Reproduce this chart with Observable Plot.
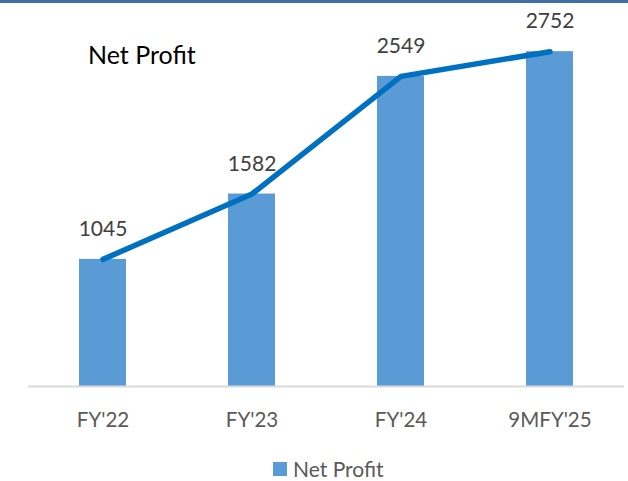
<!DOCTYPE html>
<html>
<head>
<meta charset="utf-8">
<script src="https://cdn.jsdelivr.net/npm/d3@7"></script>
<script src="https://cdn.jsdelivr.net/npm/@observablehq/plot@0.6"></script>
<style>
  html, body { margin: 0; padding: 0; background: #fff; }
  #wrap { position: relative; width: 628px; height: 481px; font-family: Lato, "Open Sans", sans-serif; }
  #topbar { position: absolute; left: 0; top: 0; width: 628px; height: 3px; background: #3f6fa3; }
  #title { position: absolute; left: 88px; top: 42px; font-size: 25px; color: #000; line-height: 1; }
  #legend { position: absolute; left: 273px; top: 458px; font-size: 21px; color: #595959; display: flex; align-items: center; line-height: 1; }
  #legend .sw { width: 14px; height: 14px; background: #5b9bd5; margin-right: 6px; }
  #chart { position: absolute; left: 0; top: 0; }
</style>
</head>
<body>
<div id="wrap">
  <div id="chart"></div>
  <div id="topbar"></div>
  <div id="title">Net Profit</div>
  <div id="legend"><span class="sw"></span><span id="legtext"></span></div>
</div>
<script>
const categories = ["FY'22", "FY'23", "FY'24", "9MFY'25"];
const netProfit = [1045, 1582, 2549, 2752];
const seriesName = "Net Profit";

const data = categories.map((c, i) => ({category: c, value: netProfit[i]}));
document.getElementById("legtext").textContent = seriesName;

const chart = Plot.plot({
  width: 628,
  height: 481,
  marginLeft: 28,
  marginRight: 4,
  marginTop: 21,
  marginBottom: 95,
  style: {fontFamily: "Lato, 'Open Sans', sans-serif", background: "transparent"},
  x: {domain: categories, paddingInner: 0.685, paddingOuter: 0.3425, label: null},
  y: {domain: [0, 3000], axis: null},
  marks: [
    Plot.barY(data, {x: "category", y: "value", fill: "#5b9bd5"}),
    Plot.ruleY([0], {stroke: "#d9d9d9", strokeWidth: 2}),
    Plot.line(data, {x: "category", y: "value", stroke: "#0070c0", strokeWidth: 5.5, strokeLinecap: "round", strokeLinejoin: "round"}),
    Plot.text(data, {x: "category", y: "value", text: d => String(d.value), dy: -30, fill: "#404040", fontSize: 21}),
    Plot.axisX({tickSize: 0, tickPadding: 26, fontSize: 20.5, color: "#595959", label: null})
  ]
});
document.getElementById("chart").appendChild(chart);
</script>
</body>
</html>
